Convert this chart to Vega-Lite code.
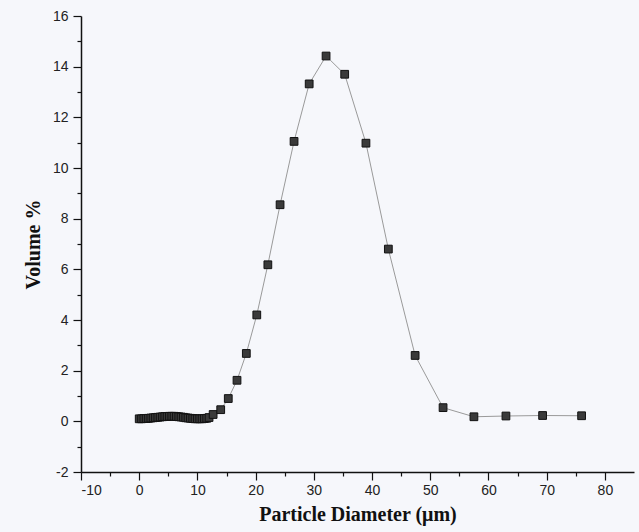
{
  "$schema": "https://vega.github.io/schema/vega-lite/v6.json",
  "width": 553,
  "height": 456,
  "autosize": {"type": "none"},
  "padding": {"left": 81, "top": 16, "right": 5, "bottom": 60},
  "background": "#f6f7fb",
  "config": {"view": {"stroke": null}},
  "data": {"values": [
    {"d": 0.0, "v": 0.10}, {"d": 0.4, "v": 0.10}, {"d": 0.8, "v": 0.11}, {"d": 1.2, "v": 0.11},
    {"d": 1.6, "v": 0.12}, {"d": 2.0, "v": 0.13}, {"d": 2.4, "v": 0.14}, {"d": 2.8, "v": 0.15},
    {"d": 3.2, "v": 0.16}, {"d": 3.6, "v": 0.17}, {"d": 4.0, "v": 0.18}, {"d": 4.4, "v": 0.19},
    {"d": 4.8, "v": 0.19}, {"d": 5.2, "v": 0.20}, {"d": 5.6, "v": 0.20}, {"d": 6.0, "v": 0.20},
    {"d": 6.4, "v": 0.19}, {"d": 6.8, "v": 0.18}, {"d": 7.2, "v": 0.17}, {"d": 7.6, "v": 0.16},
    {"d": 8.0, "v": 0.14}, {"d": 8.4, "v": 0.13}, {"d": 8.8, "v": 0.12}, {"d": 9.2, "v": 0.11},
    {"d": 9.6, "v": 0.10}, {"d": 10.0, "v": 0.10}, {"d": 10.4, "v": 0.10}, {"d": 10.8, "v": 0.10},
    {"d": 11.2, "v": 0.11}, {"d": 11.6, "v": 0.12}, {"d": 12.0, "v": 0.15},
    {"d": 12.7, "v": 0.27}, {"d": 14.0, "v": 0.46}, {"d": 15.3, "v": 0.90}, {"d": 16.8, "v": 1.62},
    {"d": 18.4, "v": 2.68}, {"d": 20.2, "v": 4.20}, {"d": 22.1, "v": 6.18}, {"d": 24.2, "v": 8.55},
    {"d": 26.6, "v": 11.05}, {"d": 29.2, "v": 13.32}, {"d": 32.1, "v": 14.42}, {"d": 35.3, "v": 13.70},
    {"d": 38.95, "v": 10.98}, {"d": 42.8, "v": 6.80}, {"d": 47.4, "v": 2.60}, {"d": 52.2, "v": 0.54},
    {"d": 57.5, "v": 0.18}, {"d": 63.0, "v": 0.21}, {"d": 69.3, "v": 0.23}, {"d": 76.0, "v": 0.22}
  ]},
  "encoding": {
    "x": {
      "field": "d", "type": "quantitative",
      "scale": {"domain": [-10, 85], "nice": false, "zero": false},
      "axis": {
        "title": "Particle Diameter (μm)",
        "values": [-10, -5, 0, 5, 10, 15, 20, 25, 30, 35, 40, 45, 50, 55, 60, 65, 70, 75, 80],
        "labelExpr": "datum.value % 10 === 0 ? replace(datum.label, '−', '-') : ''",
        "tickSize": {"condition": {"test": "datum.value % 10 === 0", "value": 8}, "value": 4},
        "grid": false,
        "domainColor": "#111", "domainWidth": 1.5,
        "tickColor": "#111", "tickWidth": 1.2,
        "labelFont": "Liberation Sans", "labelFontSize": 14, "labelColor": "#222", "labelPadding": 3,
        "titleFont": "Liberation Serif", "titleFontSize": 20, "titleFontWeight": "bold", "titleColor": "#111",
        "titlePadding": 7
      }
    },
    "y": {
      "field": "v", "type": "quantitative",
      "scale": {"domain": [-2, 16], "nice": false, "zero": false},
      "axis": {
        "title": "Volume %",
        "values": [-2, -1, 0, 1, 2, 3, 4, 5, 6, 7, 8, 9, 10, 11, 12, 13, 14, 15, 16],
        "labelExpr": "datum.value % 2 === 0 ? replace(datum.label, '−', '-') : ''",
        "tickSize": {"condition": {"test": "datum.value % 2 === 0", "value": 8}, "value": 4},
        "grid": false,
        "domainColor": "#111", "domainWidth": 1.5,
        "tickColor": "#111", "tickWidth": 1.2,
        "labelFont": "Liberation Sans", "labelFontSize": 14, "labelColor": "#222", "labelPadding": 5,
        "titleFont": "Liberation Serif", "titleFontSize": 20, "titleFontWeight": "bold", "titleColor": "#111",
        "titlePadding": 9
      }
    }
  },
  "layer": [
    {"mark": {"type": "line", "color": "#9a9a9a", "strokeWidth": 1}},
    {"mark": {"type": "point", "shape": "square", "size": 60, "filled": true, "fill": "#3a3a3a", "stroke": "#111", "strokeWidth": 1, "opacity": 1}}
  ]
}
